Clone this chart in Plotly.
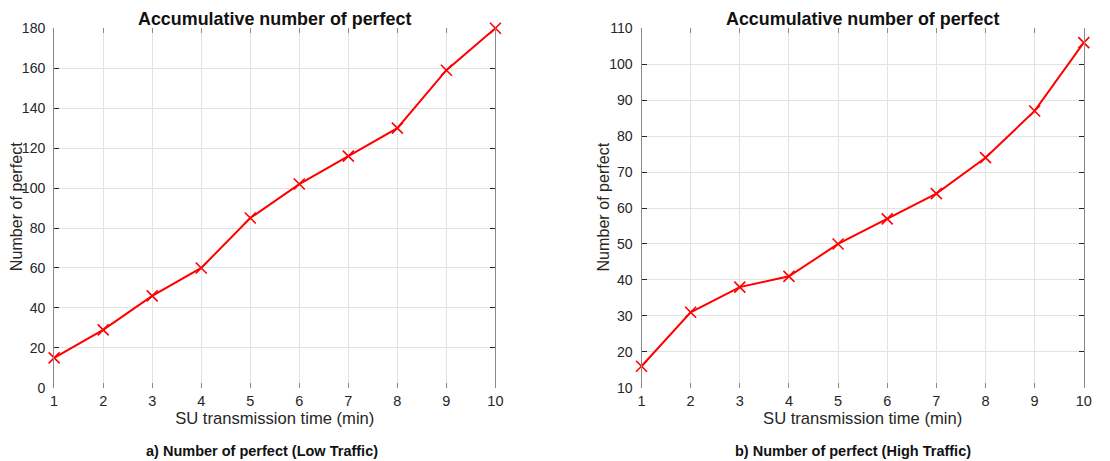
import plotly.graph_objects as go

# SU transmission time (min)
time_min = [1, 2, 3, 4, 5, 6, 7, 8, 9, 10]
# Accumulative number of perfect transmissions
perfect_low = [15, 29, 46, 60, 85, 102, 116, 130, 159, 180]
perfect_high = [16, 31, 38, 41, 50, 57, 64, 74, 87, 106]

low_ticks = [0, 20, 40, 60, 80, 100, 120, 140, 160, 180]
high_ticks = [10, 20, 30, 40, 50, 60, 70, 80, 90, 100, 110]

W, H = 1110, 461
# the page body keeps its default 8px margin around the figure
BODY = 8
SX = (W + 2 * BODY) / W
SY = (H + 2 * BODY) / H
FONT = "Liberation Sans, Arial, Helvetica, sans-serif"
TXT = "#262626"


def px_x(v):
    """page x position -> paper fraction"""
    v = v + 4 - 0.0028 * v
    return (v * SX - BODY) / W


def px_y(v):
    """page y position -> paper fraction"""
    return 1 - (v * SY - BODY) / H


def fs(size):
    return round(size * SY, 1)


fig = go.Figure()

panels = [
    dict(y=perfect_low, ticks=low_ticks, rng=[0, 180], x0=54, x1=495,
         xa="x", ya="y", caption="a) Number of perfect (Low Traffic)",
         ytitle_x=16, cap_x=262),
    dict(y=perfect_high, ticks=high_ticks, rng=[10, 110], x0=641, x1=1083,
         xa="x2", ya="y2", caption="b) Number of perfect (High Traffic)",
         ytitle_x=603, cap_x=852),
]

top_px, bot_px = 28, 388
yd = [px_y(bot_px), px_y(top_px)]

for i, p in enumerate(panels):
    fig.add_trace(go.Scatter(
        x=time_min, y=p["y"], mode="lines+markers",
        line=dict(color="#ff0000", width=2),
        marker=dict(symbol="x-thin", size=11, line=dict(color="#ff0000", width=1.6)),
        xaxis=p["xa"], yaxis=p["ya"], showlegend=False, cliponaxis=False,
    ))
    sfx = "" if i == 0 else "2"
    xd = [px_x(p["x0"]), px_x(p["x1"])]
    fig.layout["xaxis" + sfx] = dict(
        domain=xd, range=[1, 10], tickvals=time_min, anchor=p["ya"],
        showgrid=True, gridcolor="#e3e3e3", gridwidth=1,
        showline=False, zeroline=False,
        ticks="inside", ticklen=5, tickcolor="#8a8a8a", mirror="ticks",
        ticklabelstandoff=3,
        tickfont=dict(family=FONT, size=fs(14), color=TXT),
        title=dict(text="SU transmission time (min)", standoff=0,
                   font=dict(family=FONT, size=fs(16), color=TXT)),
    )
    fig.layout["yaxis" + sfx] = dict(
        domain=yd, range=p["rng"], tickvals=p["ticks"], anchor=p["xa"],
        showgrid=True, gridcolor="#e3e3e3", gridwidth=1,
        showline=True, linecolor="#8a8a8a", linewidth=1, mirror="ticks",
        zeroline=False, ticklabelstandoff=5,
        ticks="inside", ticklen=5, tickcolor="#262626",
        tickfont=dict(family=FONT, size=fs(13.6), color=TXT),
    )
    cx = (p["x0"] + p["x1"]) / 2
    fig.add_annotation(
        x=px_x(cx), y=px_y(19), xref="paper", yref="paper", showarrow=False,
        text="<b>Accumulative number of perfect</b>",
        font=dict(family=FONT, size=fs(17.3), color="#111111"),
        xanchor="center", yanchor="middle",
    )
    fig.add_annotation(
        x=px_x(p["ytitle_x"]), y=px_y(207), xref="paper", yref="paper",
        showarrow=False, textangle=-90, text="Number of perfect",
        font=dict(family=FONT, size=fs(15.6), color=TXT),
        xanchor="center", yanchor="middle",
    )
    fig.add_annotation(
        x=px_x(p["cap_x"]), y=px_y(451), xref="paper", yref="paper", showarrow=False,
        text="<b>" + p["caption"] + "</b>",
        font=dict(family=FONT, size=fs(14), color="#111111"),
        xanchor="center", yanchor="middle",
    )

fig.update_layout(
    width=W, height=H, margin=dict(l=0, r=0, t=0, b=0),
    paper_bgcolor="white", plot_bgcolor="white",
)

fig.write_html("out.html")
